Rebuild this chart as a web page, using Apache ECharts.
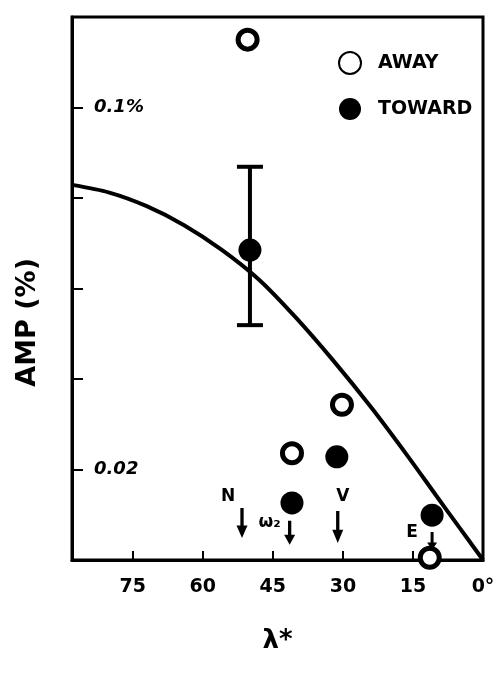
<!DOCTYPE html>
<html>
<head>
<meta charset="utf-8">
<script src="https://cdn.jsdelivr.net/npm/echarts@6/dist/echarts.min.js"></script>
<style>html,body{margin:0;padding:0;background:#fff}#c{width:503px;height:673px}</style>
</head>
<body>
<div id="c"></div>
<script>
// ---- data ----
const lambdaAway = [50.4, 40.9, 30.2, 11.4];
const ampAway = [0.115, 0.0236, 0.0343, 0.0005];
const lambdaToward = [49.9, 40.9, 31.3, 10.9];
const ampToward = [0.0685, 0.0126, 0.0228, 0.0099];
const errLambda = [49.9];
const errLow = [0.0519];
const errHigh = [0.0869];
const curveLambda = [88, 80, 72, 64, 56, 48, 40, 32, 24, 16, 10, 5, 0];
const curveAmp = [0.0829, 0.0812, 0.0782, 0.0740, 0.0686, 0.0620, 0.0535, 0.0440, 0.0338, 0.0228, 0.0142, 0.0071, 0];
const limitLambda = [51.6, 41.4, 31.1, 10.9];
const limitAmp = [0.0082, 0.0060, 0.0073, 0.0042];
const limitLabels = ['N', 'ω₂', 'V', 'E'];
const xTickLabels = {0: '0°', 15: '15', 30: '30', 45: '45', 60: '60', 75: '75'};
const yTickLabels = {'0.02': '0.02', '0.1': '0.1%'};

// ---- styles (not data) ----
const limitOffsets = [[-14, -26], [-20, -10], [5, -30], [-20, -8]];
const limitSizes = [[11, 30], [11, 24], [11, 32], [10, 18]];

const chart = echarts.init(document.getElementById('c'));
const font = 'DejaVu Sans';
const arrowPath = 'path://M3.5,0 L6.5,0 L6.5,14 L10,14 L5,24 L0,14 L3.5,14 Z';

chart.setOption({
  animation: false,
  backgroundColor: '#fff',
  grid: {left: 72, right: 20, top: 17, bottom: 113, show: true, borderColor: '#000', borderWidth: 3},
  legend: {
    orient: 'vertical', left: 333, top: 46, itemWidth: 22, itemHeight: 22, itemGap: 23,
    data: ['AWAY', 'TOWARD'],
    textStyle: {fontFamily: font, fontWeight: 'bold', fontSize: 19, color: '#000', padding: [0, 0, 0, 12]}
  },
  xAxis: {
    type: 'value', min: 0, max: 88, interval: 15, inverse: true,
    axisLine: {onZero: false, lineStyle: {color: '#000', width: 3}},
    axisTick: {inside: true, length: 9, lineStyle: {color: '#000', width: 2}},
    splitLine: {show: false},
    axisLabel: {
      margin: 18, color: '#000', fontFamily: font, fontWeight: 'bold', fontSize: 19,
      showMaxLabel: false,
      formatter: v => (xTickLabels[v] !== undefined ? xTickLabels[v] : '')
    },
    name: 'λ*', nameLocation: 'middle', nameGap: 68,
    nameTextStyle: {color: '#000', fontFamily: font, fontWeight: 'bold', fontSize: 26}
  },
  yAxis: {
    type: 'value', min: 0, max: 0.12, interval: 0.02, position: 'left',
    axisLine: {onZero: false, lineStyle: {color: '#000', width: 3}},
    axisTick: {inside: true, length: 11, lineStyle: {color: '#000', width: 2}},
    splitLine: {show: false},
    axisLabel: {
      inside: true, margin: 22, color: '#000', fontFamily: font, fontWeight: 'bold', fontStyle: 'italic', fontSize: 18,
      formatter: v => { const k = String(Math.round(v * 100) / 100); return yTickLabels[k] || ''; }
    }
  },
  graphic: [{
    type: 'text', left: 14, top: 258, rotation: Math.PI / 2,
    style: {text: 'AMP (%)', fill: '#000', font: 'bold 27px "DejaVu Sans"'}
  }],
  series: [
    {
      type: 'line', name: 'curve', data: curveLambda.map((l, i) => [l, curveAmp[i]]),
      smooth: 0.3, symbol: 'none', lineStyle: {color: '#000', width: 4}, silent: true
    },
    {
      type: 'custom', name: 'err', data: errLambda.map((l, i) => [l, errLow[i], errHigh[i]]),
      renderItem: (params, api) => {
        const lo = api.coord([api.value(0), api.value(1)]);
        const hi = api.coord([api.value(0), api.value(2)]);
        const w = 13;
        const st = {stroke: '#000', lineWidth: 4};
        return {type: 'group', children: [
          {type: 'line', shape: {x1: lo[0], y1: lo[1], x2: hi[0], y2: hi[1]}, style: st},
          {type: 'line', shape: {x1: lo[0] - w, y1: lo[1], x2: lo[0] + w, y2: lo[1]}, style: st},
          {type: 'line', shape: {x1: hi[0] - w, y1: hi[1], x2: hi[0] + w, y2: hi[1]}, style: st}
        ]};
      }
    },
    {
      type: 'scatter', name: 'AWAY', data: lambdaAway.map((l, i) => [l, ampAway[i]]),
      symbol: 'circle', symbolSize: 19,
      itemStyle: {color: '#fff', borderColor: '#000', borderWidth: 5, opacity: 1}
    },
    {
      type: 'scatter', name: 'TOWARD', data: lambdaToward.map((l, i) => [l, ampToward[i]]),
      symbol: 'circle', symbolSize: 23, itemStyle: {color: '#000', opacity: 1}
    },
    {
      type: 'scatter', name: 'limits',
      data: limitLambda.map((l, i) => ({
        value: [l, limitAmp[i]], name: limitLabels[i], symbolSize: limitSizes[i],
        label: {offset: limitOffsets[i]}
      })),
      symbol: arrowPath, symbolKeepAspect: false,
      itemStyle: {color: '#000', opacity: 1},
      label: {show: true, position: 'inside', formatter: p => p.name, color: '#000',
        fontFamily: font, fontWeight: 'bold', fontSize: 17}
    }
  ]
});
</script>
</body>
</html>
